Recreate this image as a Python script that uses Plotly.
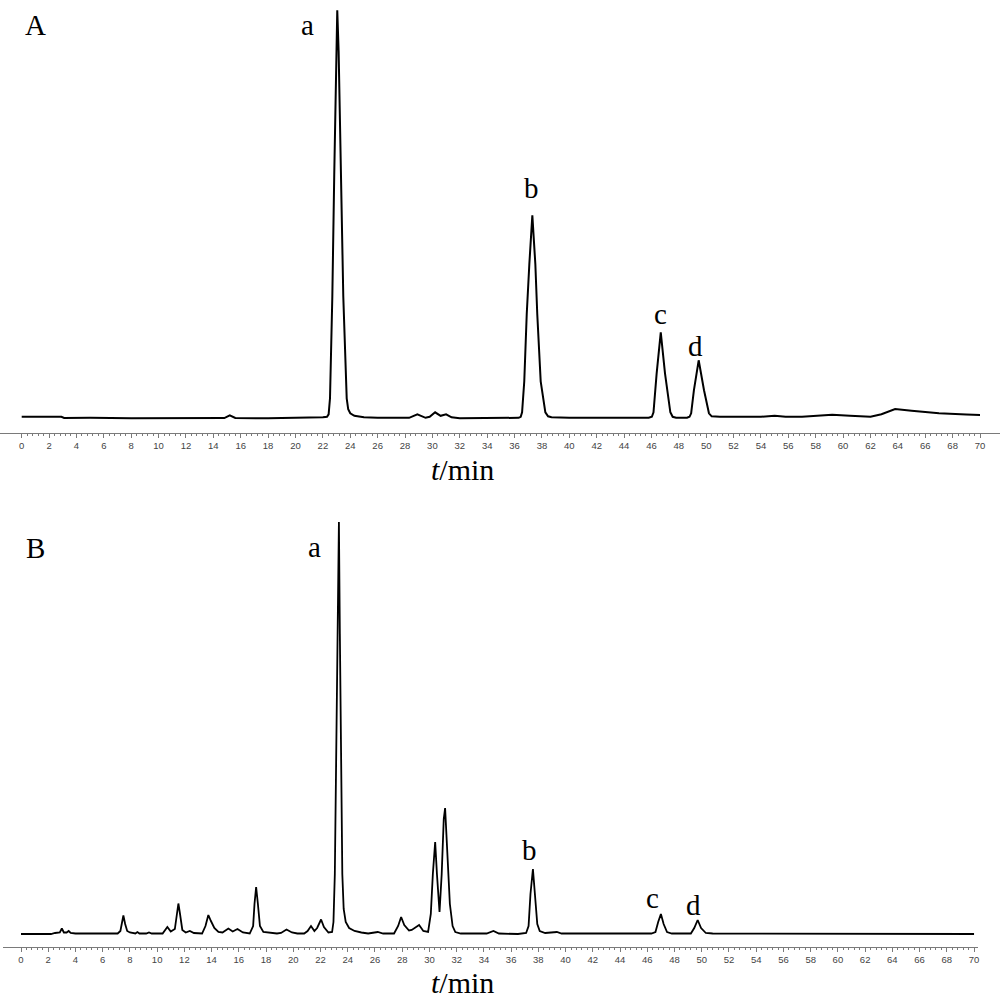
import numpy as np
import plotly.graph_objects as go

# ---------------- data ----------------
# Panel A: retention time (min) and detector response (arbitrary units)
t_A = [0, 1, 2, 2.9, 3.1, 5, 8, 10, 14.8, 15.2, 15.6, 18, 20, 21, 22, 22.3, 22.42,
       22.52, 22.69, 22.83, 22.96, 23.05, 23.15, 23.3, 23.49, 23.74, 23.85, 24.0, 24.3, 25, 26,
       28.3, 28.9, 29.5, 29.8, 30.2, 30.6, 31.0, 31.4, 32, 34,
       36.3, 36.45, 36.55, 36.71, 36.89, 37.08, 37.3, 37.52, 37.66, 37.91, 38.25, 38.45, 38.7, 40, 44,
       45.8, 46.03, 46.15, 46.38, 46.68, 46.99, 47.38, 47.55, 47.8,
       48.6, 48.78, 48.9, 49.1, 49.45, 49.84, 50.2, 50.4, 51, 54, 55, 55.8, 57, 59.2, 60.5, 62,
       62.8, 63.8, 65, 67, 69, 70]
h_A = [1.5, 1.5, 1.2, 1.5, 0.3, 0.5, 0, 0, 0.2, 3, 0.3, 0, 0.2, 1, 1, 1.5, 4,
       20, 122, 244, 367, 408, 367, 244, 122, 20, 9, 5, 2.5, 1, 0.5,
       0.5, 4, 0.5, 1.5, 6, 2.5, 4, 1, 0, 0,
       0.5, 1.5, 6, 37, 104, 154, 203, 154, 104, 37, 6, 2, 1, 0.5, 0.5,
       0.5, 1.5, 6, 45, 86, 45, 6, 1.5, 0.5,
       0.5, 1.5, 5, 28, 58, 28, 5, 2, 1.5, 1.5, 2.5, 1.5, 1.5, 3.5, 2.5, 1.5,
       4, 9.3, 7.5, 5, 3.8, 3.3]

# Panel B
t_B = [0, 2.2, 2.5, 2.85, 3.0, 3.15, 3.35, 3.5, 3.65, 4, 5, 7.1, 7.3, 7.42, 7.52, 7.65,
       7.8, 8.0, 8.4, 8.55, 8.7, 9.2, 9.4, 9.6, 10.4, 10.75, 11.0, 11.3, 11.45, 11.56,
       11.68, 11.85, 12.1, 12.4, 12.7, 13.3, 13.55, 13.76, 13.95, 14.2, 14.5, 14.8,
       15.23, 15.55, 15.9, 16.3, 16.8, 17.05, 17.15, 17.27, 17.4, 17.55, 17.8, 18.3,
       18.8, 19.1, 19.5, 19.9, 20.3, 20.8, 21.05, 21.3, 21.55, 21.75, 22.04, 22.25,
       22.58, 22.85, 22.95, 23.05, 23.15, 23.25, 23.35, 23.42, 23.5, 23.6, 23.7, 23.85,
       24.1, 24.5, 25, 25.5, 26.2, 26.6, 27.4, 27.7, 27.92, 28.15, 28.5, 28.7, 29.24,
       29.55, 29.9, 30.1, 30.25, 30.42, 30.55, 30.74, 30.9, 31.05, 31.15, 31.3, 31.5,
       31.7, 31.9, 32.3, 34.2, 34.7, 35.1, 36.5, 37.1, 37.28, 37.42, 37.6, 37.75, 37.92,
       38.1, 38.5, 39.36, 39.7, 46.3, 46.6, 46.8, 47.0, 47.2, 47.45, 47.8, 49.2, 49.45,
       49.7, 49.95, 50.3, 50.8, 60.8, 61.0, 70]
h_B = [0, 0, 1, 1.5, 5.5, 1.5, 1.5, 3, 1, 0.5, 0.5, 0.5, 3, 12, 18.5, 10,
       3, 1.5, 0.5, 2, 0.5, 0.5, 1.5, 0.5, 0.5, 7, 2.5, 5, 22, 30.5,
       20, 4, 1.5, 3, 1, 0.5, 8, 19, 13, 6, 2, 1.5,
       5.5, 2.5, 5, 1.5, 0.5, 8, 30, 47, 30, 8, 2, 1,
       0.5, 1, 4.5, 1.5, 0.5, 0.5, 3, 8, 3, 6, 14.5, 7,
       1.5, 2, 12, 60, 160, 300, 412, 300, 160, 60, 25, 12,
       6, 3, 1.5, 0.5, 2, 0.5, 0.5, 8, 17, 9, 3.5, 4, 9,
       3, 2, 20, 60, 92, 60, 22, 60, 115, 126, 90, 30,
       8, 2, 0.5, 0.5, 3, 0.5, 0, 1, 8, 40, 65, 40, 10,
       3, 1, 2, 0.5, 0.5, 2, 12, 20, 10, 2, 0.5, 0.5, 6,
       14, 6, 1, 0.5, 0.5, 0, 0]

tick_vals = list(range(0, 71, 2))
tick_text = [str(v) for v in tick_vals]
minor_vals = [round(v, 1) for v in np.arange(0, 70.01, 0.4)]
panel_labels = ["A", "B"]
peak_labels = ["a", "b", "c", "d"]
axis_title = "<i>t</i>/min"

# ---------------- figure ----------------
fig = go.Figure()
fig.add_trace(go.Scatter(x=t_A, y=h_A, mode="lines",
                         line=dict(color="black", width=2), xaxis="x", yaxis="y",
                         showlegend=False))
fig.add_trace(go.Scatter(x=t_B, y=h_B, mode="lines",
                         line=dict(color="black", width=1.8), xaxis="x2", yaxis="y2",
                         showlegend=False))

def xaxis_style(domain, rng, anchor):
    return dict(domain=domain, range=rng, anchor=anchor,
                showline=True, linecolor="#7a7a7a", linewidth=1,
                ticks="outside", ticklen=4, tickwidth=1, tickcolor="#7a7a7a",
                tickmode="array", tickvals=tick_vals, ticktext=tick_text,
                tickfont=dict(family="Liberation Sans", size=9.5, color="#444444"),
                minor=dict(tickmode="array", tickvals=minor_vals, ticks="outside",
                           ticklen=2, tickcolor="#7a7a7a", tickwidth=1),
                showgrid=False, zeroline=False, fixedrange=True)

def yaxis_style(domain, rng, anchor):
    return dict(domain=domain, range=rng, anchor=anchor, visible=False,
                showgrid=False, zeroline=False, fixedrange=True)

fig.update_layout(
    width=1000, height=1000,
    margin=dict(l=0, r=0, t=0, b=0),
    paper_bgcolor="white", plot_bgcolor="white",
    xaxis=xaxis_style([0.0, 1.0], [-1.585, 71.46], "y"),
    yaxis=yaxis_style([0.5673, 1.0], [-14.4, 418.3], "x"),
    xaxis2=xaxis_style([0.003, 0.978], [-1.322, 70.29], "y2"),
    yaxis2=yaxis_style([0.0533, 0.49], [-12.7, 424], "x2"),
)

serif = "Liberation Serif"
ann = []
# panel letters
ann.append(dict(x=0.035, y=1 - 0.025, text=panel_labels[0]))
ann.append(dict(x=0.035, y=1 - 0.548, text=panel_labels[1]))
# peak labels
posA = [(0.307, 0.025), (0.531, 0.188), (0.660, 0.314), (0.695, 0.346)]
posB = [(0.314, 0.547), (0.529, 0.850), (0.652, 0.898), (0.693, 0.905)]
for lab, (px, py) in zip(peak_labels, posA):
    ann.append(dict(x=px, y=1 - py, text=lab))
for lab, (px, py) in zip(peak_labels, posB):
    ann.append(dict(x=px, y=1 - py, text=lab))
annotations = []
for a in ann:
    annotations.append(dict(xref="paper", yref="paper", x=a["x"], y=a["y"],
                            text=a["text"], showarrow=False,
                            xanchor="center", yanchor="middle",
                            font=dict(family=serif, size=29, color="black")))
for py in (0.469, 0.982):
    annotations.append(dict(xref="paper", yref="paper", x=0.462, y=1 - py,
                            text=axis_title, showarrow=False,
                            xanchor="center", yanchor="middle",
                            font=dict(family=serif, size=30, color="black")))
fig.update_layout(annotations=annotations)

fig.write_html("out.html",
               config={"displayModeBar": False, "staticPlot": True},
               post_script="document.body.style.margin='0';"
                           "document.body.style.padding='0';"
                           "document.body.style.overflow='hidden';")
